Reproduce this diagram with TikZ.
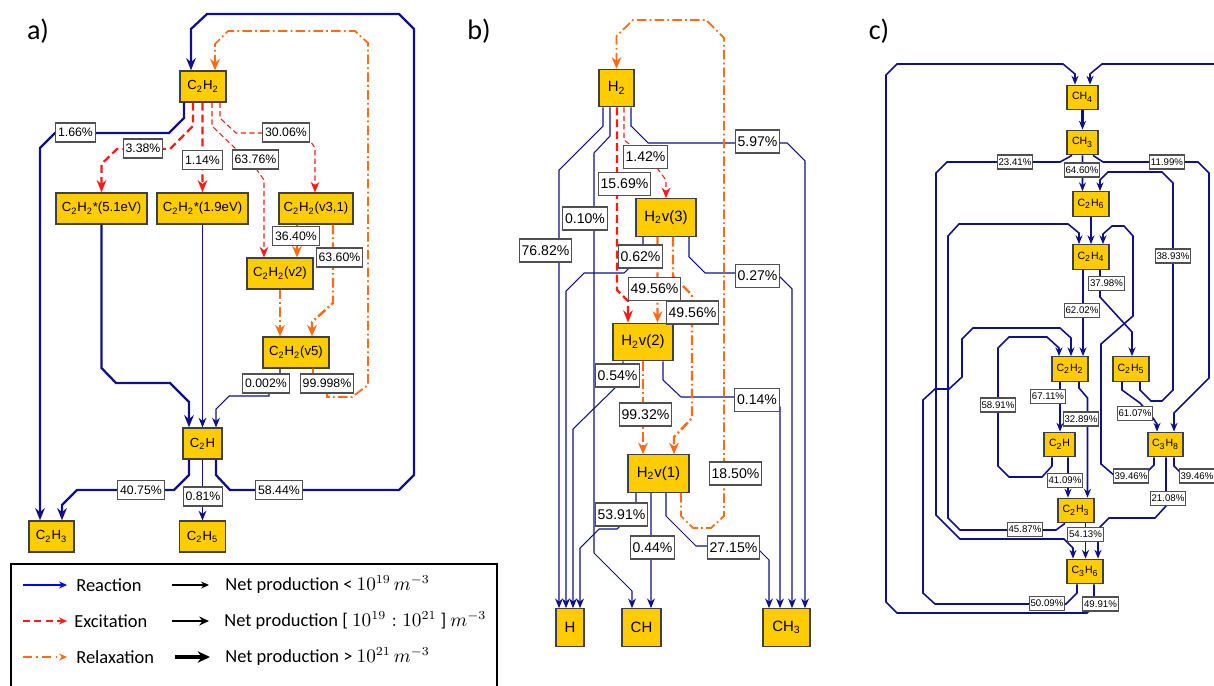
\documentclass[tikz,border=0pt]{standalone}
\usepackage{fontspec}
\setmainfont{Liberation Sans}
\newfontfamily\keyfont{Carlito}
\usepackage{tikz}
\usetikzlibrary{arrows.meta,calc}
\definecolor{BoxGold}{HTML}{FFCC00}
\definecolor{BoxEdge}{HTML}{404040}
\definecolor{TagEdge}{HTML}{505050}
\definecolor{LinkNavy}{HTML}{10108A}
\definecolor{ExcRed}{HTML}{FF1A1A}
\definecolor{RelOrange}{HTML}{FF6A13}
\definecolor{KeyBlue}{HTML}{0000FF}

\tikzset{
  species/.style={draw=BoxEdge,fill=BoxGold,line width=0.7pt,inner sep=0pt},
  spa/.style={species,minimum height=0.62cm,font=\fontsize{7.5}{9}\selectfont},
  spb/.style={species,minimum height=0.75cm,font=\fontsize{8.5}{10}\selectfont},
  spc/.style={species,minimum height=0.49cm,font=\fontsize{6}{7}\selectfont},
  ratio/.style={draw=TagEdge,fill=white,line width=0.6pt,inner ysep=0pt,inner xsep=1.4pt},
  ratioa/.style={ratio,minimum height=0.38cm,font=\fontsize{7}{8}\selectfont},
  ratiob/.style={ratio,minimum height=0.46cm,font=\fontsize{8}{9}\selectfont},
  ratioc/.style={ratio,minimum height=0.28cm,inner xsep=0.8pt,font=\fontsize{5.5}{6}\selectfont},
  link/.style={draw=LinkNavy,line width=0.6pt,-{Stealth[length=5.5pt,width=4.5pt]}},
  linkbold/.style={link,line width=1.3pt,-{Stealth[length=7pt,width=5.5pt]}},
  linkc/.style={link,line width=0.9pt,-{Stealth[length=5pt,width=4pt]}},
  excite/.style={draw=ExcRed,line width=1.3pt,dash pattern=on 4.5pt off 2.3pt,-{Stealth[length=7pt,width=5.5pt]}},
  excitethin/.style={draw=ExcRed,line width=0.6pt,dash pattern=on 3pt off 1.8pt,-{Stealth[length=6pt,width=5pt]}},
  relax/.style={draw=RelOrange,line width=1pt,dash pattern=on 5.5pt off 1.8pt on 1pt off 1.8pt,-{Stealth[length=6.5pt,width=5.5pt]}},
  relaxbold/.style={relax,line width=1.4pt},
  keytext/.style={anchor=west,inner sep=0pt,font=\keyfont\fontsize{10.5}{12}\selectfont},
  keyarrow/.style={line width=0.8pt,-{Stealth[length=4.5pt,width=4pt]}},
  panel/.style={font=\keyfont\fontsize{16}{18}\selectfont}
}

\begin{document}
\begin{tikzpicture}[x=0.02cm,y=-0.02cm]
  \useasboundingbox (0,0) rectangle (1214,686);

  \node[panel] (taga) at (38,31) {a)};
  \node[panel] (tagb) at (479,31) {b)};
  \node[panel] (tagc) at (879,31) {c)};

  % ---- a) C2H2 chemistry
  \node[spa,minimum width=0.92cm] (c2h2) at (203,86.5) {C\textsubscript{2}H\textsubscript{2}};
  \node[spa,minimum width=1.82cm] (c2h2e5) at (101.5,208.5) {C\textsubscript{2}H\textsubscript{2}*(5.1eV)};
  \node[spa,minimum width=1.82cm] (c2h2e19) at (202.5,208.5) {C\textsubscript{2}H\textsubscript{2}*(1.9eV)};
  \node[spa,minimum width=1.48cm] (c2h2v31) at (316,208.5) {C\textsubscript{2}H\textsubscript{2}(v3,1)};
  \node[spa,minimum width=1.32cm] (c2h2v2) at (280,273.5) {C\textsubscript{2}H\textsubscript{2}(v2)};
  \node[spa,minimum width=1.32cm] (c2h2v5) at (296,352.5) {C\textsubscript{2}H\textsubscript{2}(v5)};
  \node[spa,minimum width=0.78cm] (c2h) at (202.5,443.5) {C\textsubscript{2}H};
  \node[spa,minimum width=0.9cm] (c2h3) at (51.5,536.5) {C\textsubscript{2}H\textsubscript{3}};
  \node[spa,minimum width=0.92cm] (c2h5) at (202.5,536.5) {C\textsubscript{2}H\textsubscript{5}};

  \draw[linkbold] ($(c2h.south)+(13.5,0)$) -- (216,475) -- (230,490) -- (399,490) -- (414,475) -- (414,29) -- (399,14) -- (207,14) -- (191,29) -- ($(c2h2.north)+(-12,0)$);
  \draw[linkbold] ($(c2h.south)+(-13.5,0)$) -- (189,475) -- (174,490) -- (77,490) -- (62,505) -- ($(c2h3.north)+(10.5,0)$);
  \draw[link] (c2h.south) -- (c2h5.north);
  \draw[linkbold] ($(c2h2.south)+(-19,0)$) -- (184,118) -- (169,133) -- (55,133) -- (40,148) -- ($(c2h3.north)+(-11.5,0)$);
  \draw[linkbold] (c2h2e5.south) -- (101.5,368) -- (116,383) -- (170,383) -- (189,402) -- ($(c2h.north)+(-13.5,0)$);
  \draw[link] (c2h2e19.south) -- (c2h.north);
  \draw[link] ($(c2h2v5.south)+(-16,0)$) -- (280,383) -- (269,383) -- (269,396) -- (229,396) -- (216,409) -- ($(c2h.north)+(13.5,0)$);
  \draw[relax] ($(c2h2v5.south)+(17,0)$) -- (313,384) -- (327,384) -- (327,397) -- (352,397) -- (368,385) -- (368,43) -- (355,31) -- (228,31) -- (215,44) -- ($(c2h2.north)+(12,0)$);
  \draw[excite] ($(c2h2.south)+(-10,0)$) -- (193,126) -- (170,149) -- (117,149) -- (101.5,164) -- (c2h2e5.north);
  \draw[excite] ($(c2h2.south)+(-0.5,0)$) -- (c2h2e19.north);
  \draw[excitethin] ($(c2h2.south)+(9,0)$) -- (212,126) -- (236,149) -- (257,170) -- (264,180) -- ($(c2h2v2.north)+(-16,0)$);
  \draw[excitethin] ($(c2h2.south)+(17,0)$) -- (220,118) -- (236,133) -- (305,133) -- (315,148) -- ($(c2h2v31.north)+(-1,0)$);
  \draw[relaxbold] ($(c2h2v31.south)+(-19,0)$) -- ($(c2h2v2.north)+(17,0)$);
  \draw[relaxbold] ($(c2h2v31.south)+(17,0)$) -- (333,303) -- (312,322) -- ($(c2h2v5.north)+(16,0)$);
  \draw[relaxbold] (c2h2v2.south) -- ($(c2h2v5.north)+(-16,0)$);

  \node[ratioa] (pa1) at (75.5,132.5) {1.66\%};
  \node[ratioa] (pa2) at (143,148.5) {3.38\%};
  \node[ratioa] (pa3) at (202.5,160) {1.14\%};
  \node[ratioa] (pa4) at (255.5,159.5) {63.76\%};
  \node[ratioa] (pa5) at (286,132.5) {30.06\%};
  \node[ratioa] (pa6) at (296,236) {36.40\%};
  \node[ratioa] (pa7) at (339.5,257.5) {63.60\%};
  \node[ratioa] (pa8) at (266,383.5) {0.002\%};
  \node[ratioa] (pa9) at (327,383.5) {99.998\%};
  \node[ratioa] (pa10) at (141,490) {40.75\%};
  \node[ratioa] (pa11) at (203,496.5) {0.81\%};
  \node[ratioa] (pa12) at (279,490) {58.44\%};

  % ---- b) H2 chemistry
  \node[spb,minimum width=0.7cm] (h2) at (616.5,88) {H\textsubscript{2}};
  \node[spb,minimum width=1.2cm] (h2v3) at (666,217.5) {H\textsubscript{2}v(3)};
  \node[spb,minimum width=1.2cm] (h2v2) at (643,342) {H\textsubscript{2}v(2)};
  \node[spb,minimum width=1.22cm] (h2v1) at (658.5,473.5) {H\textsubscript{2}v(1)};
  \node[spb,minimum width=0.56cm] (hb) at (570,627.5) {H};
  \node[spb,minimum width=0.78cm] (chb) at (641.5,627.5) {CH};
  \node[spb,minimum width=0.94cm] (ch3b) at (786.5,627.5) {CH\textsubscript{3}};

  \draw[link] ($(h2.south)+(-13.5,0)$) -- (603,126) -- (559,170) -- ($(hb.north)+(-11,0)$);
  \draw[link] ($(h2.south)+(-6.5,0)$) -- (610,136) -- (594,153) -- (594,553) -- (632,591) -- ($(chb.north)+(-9.5,0)$);
  \draw[link] ($(h2v3.south)+(-23,0)$) -- (643,257) -- (628,257) -- (628,269) -- (624,273) -- (584,273) -- (566,291) -- ($(hb.north)+(-4,0)$);
  \draw[link] ($(h2v2.south)+(-20,0)$) -- (623,376) -- (616,376) -- (616,387) -- (573,429) -- ($(hb.north)+(3,0)$);
  \draw[link] ($(h2v1.south)+(-22.5,0)$) -- (636,514) -- (620,514) -- (620,526) -- (617,529) -- (599,529) -- (580,548) -- ($(hb.north)+(10,0)$);
  \draw[link] ($(h2.south)+(14.5,0)$) -- (631,126) -- (648,143) -- (787,143) -- (805,161) -- ($(ch3b.north)+(18.5,0)$);
  \draw[link] ($(h2v3.south)+(23,0)$) -- (689,257) -- (705,273) -- (776,273) -- (792,289) -- ($(ch3b.north)+(5.5,0)$);
  \draw[link] ($(h2v2.south)+(20,0)$) -- (663,380) -- (681,397) -- (770,397) -- (780,407) -- ($(ch3b.north)+(-6.5,0)$);
  \draw[link] ($(h2v1.south)+(7.5,0)$) -- (666,516) -- (696,546) -- (755,546) -- (769,560) -- ($(ch3b.north)+(-17.5,0)$);
  \draw[link] ($(h2v1.south)+(-7.5,0)$) -- ($(chb.north)+(9.5,0)$);
  \draw[excite] ($(h2.south)+(0.5,0)$) -- (617,290) -- (628,301) -- ($(h2v2.north)+(-15,0)$);
  \draw[excitethin] ($(h2.south)+(7.5,0)$) -- (624,140) -- (632,146) -- (657,168) -- (666,180) -- (h2v3.north);
  \draw[relaxbold] ($(h2v3.south)+(-8.5,0)$) -- ($(h2v2.north)+(14.5,0)$);
  \draw[relaxbold] ($(h2v3.south)+(7,0)$) -- (673,276) -- (692,295) -- (692,418) -- (674,437) -- ($(h2v1.north)+(15.5,0)$);
  \draw[relaxbold] (h2v2.south) -- ($(h2v1.north)+(-15.5,0)$);
  \draw[relax] ($(h2v1.south)+(22.5,0)$) -- (681,516) -- (693,528) -- (711,528) -- (724,516) -- (724,38) -- (706,20) -- (633,20) -- (616.5,36) -- (h2.north);

  \node[ratiob] (pb1) at (545.5,250.5) {76.82\%};
  \node[ratiob] (pb2) at (585,218.5) {0.10\%};
  \node[ratiob] (pb3) at (624.5,184) {15.69\%};
  \node[ratiob] (pb4) at (645.5,157) {1.42\%};
  \node[ratiob] (pb5) at (757.5,141.5) {5.97\%};
  \node[ratiob] (pb6) at (640.5,256.5) {0.62\%};
  \node[ratiob] (pb7) at (757.5,276) {0.27\%};
  \node[ratiob] (pb8) at (654.5,289) {49.56\%};
  \node[ratiob] (pb9) at (692.5,312.5) {49.56\%};
  \node[ratiob] (pb10) at (617.5,375.5) {0.54\%};
  \node[ratiob] (pb11) at (757,400) {0.14\%};
  \node[ratiob] (pb12) at (645.5,414.5) {99.32\%};
  \node[ratiob] (pb13) at (735.5,473.5) {18.50\%};
  \node[ratiob] (pb14) at (621.5,514.5) {53.91\%};
  \node[ratiob] (pb15) at (652.5,547.5) {0.44\%};
  \node[ratiob] (pb16) at (733.5,547.5) {27.15\%};

  % ---- c) CH4 chemistry
  \node[spc,minimum width=0.62cm] (cch4) at (1082.5,97.5) {CH\textsubscript{4}};
  \node[spc,minimum width=0.62cm] (cch3) at (1082.5,142.5) {CH\textsubscript{3}};
  \node[spc,minimum width=0.72cm] (cc2h6) at (1091,204) {C\textsubscript{2}H\textsubscript{6}};
  \node[spc,minimum width=0.72cm] (cc2h4) at (1091,257) {C\textsubscript{2}H\textsubscript{4}};
  \node[spc,minimum width=0.72cm] (cc2h2) at (1070,369) {C\textsubscript{2}H\textsubscript{2}};
  \node[spc,minimum width=0.72cm] (cc2h5) at (1131,369) {C\textsubscript{2}H\textsubscript{5}};
  \node[spc,minimum width=0.62cm] (cc2h) at (1059.5,444.5) {C\textsubscript{2}H};
  \node[spc,minimum width=0.70cm] (cc3h8) at (1165.5,444.5) {C\textsubscript{3}H\textsubscript{8}};
  \node[spc,minimum width=0.72cm] (cc2h3) at (1076,510.5) {C\textsubscript{2}H\textsubscript{3}};
  \node[spc,minimum width=0.72cm] (cc3h6) at (1085,571.5) {C\textsubscript{3}H\textsubscript{6}};

  \draw[linkc,line width=1.4pt] (cch4.south) -- (cch3.north);
  \draw[linkc] (cch3.south) -- ($(cc2h6.north)+(-8.5,0)$);
  \draw[linkc] ($(cch3.south)+(-10.5,0)$) -- (1060,162) -- (947,162) -- (936,173) -- (936,515) -- (960,539) -- (1064,539) -- (1073,548) -- ($(cc3h6.north)+(-12,0)$);
  \draw[linkc] ($(cch3.south)+(10.5,0)$) -- (1103,162) -- (1198,162) -- (1209,173) -- (1209,378) -- (1174,413) -- ($(cc3h8.north)+(8.5,0)$);
  \draw[linkc] ($(cc2h5.south)+(9,0)$) -- (1140,390) -- (1151,401) -- (1162,401) -- (1173,390) -- (1173,183) -- (1162,172) -- (1108,172) -- (1100,180) -- ($(cc2h6.north)+(9,0)$);
  \draw[linkc] (cc2h6.south) -- (cc2h4.north);
  \draw[linkc] ($(cc2h3.south)+(-11,0)$) -- (1056,530) -- (960,530) -- (948,518) -- (948,236) -- (959,224) -- (1068,224) -- (1079,233) -- ($(cc2h4.north)+(-12,0)$);
  \draw[linkc] ($(cc3h8.south)+(-11.5,0)$) -- (1154,465) -- (1148,471) -- (1115,476) -- (1101,464) -- (1101,344) -- (1133,316) -- (1133,236) -- (1124,226) -- (1112,226) -- (1103,234) -- ($(cc2h4.north)+(12,0)$);
  \draw[linkc] ($(cc2h4.south)+(-8,0)$) -- ($(cc2h2.north)+(13,0)$);
  \draw[linkc] ($(cc2h4.south)+(9,0)$) -- (1100,297) -- (1132,332) -- ($(cc2h5.north)+(1,0)$);
  \draw[linkc] ($(cc2h.south)+(-7.5,0)$) -- (1052,466) -- (1042,477) -- (1009,477) -- (998,466) -- (998,348) -- (1009,337) -- (1047,337) -- (1059,348) -- ($(cc2h2.north)+(-11,0)$);
  \draw[linkc] ($(cc3h6.south)+(-8,0)$) -- (1077,593) -- (1066,604) -- (935,604) -- (923,593) -- (923,400) -- (935,389) -- (949,389) -- (962,377) -- (962,339) -- (973,328) -- (1060,328) -- (1071,338) -- ($(cc2h2.north)+(1,0)$);
  \draw[linkc] ($(cc3h6.south)+(9,0)$) -- (1094,606) -- (1087,613) -- (897,613) -- (886,602) -- (886,75) -- (897,64) -- (1063,64) -- (1075,74) -- ($(cch4.north)+(-7.5,0)$);
  \draw[linkc] ($(cc2h2.south)+(-10,0)$) -- ($(cc2h.north)+(0.5,0)$);
  \draw[linkc] ($(cc2h2.south)+(9,0)$) -- (1079,388) -- (1087.5,398) -- ($(cc2h3.north)+(11.5,0)$);
  \draw[linkc] ($(cc2h.south)+(8.5,0)$) -- ($(cc2h3.north)+(-8,0)$);
  \draw[linkc] ($(cc2h3.south)+(9.5,0)$) -- ($(cc3h6.north)+(0.5,0)$);
  \draw[linkc] ($(cc3h8.south)+(0.5,0)$) -- (1166,506) -- (1155,518) -- (1109,518) -- (1098,529) -- ($(cc3h6.north)+(13,0)$);
  \draw[linkc] ($(cc2h5.south)+(-9,0)$) -- (1122,390) -- (1140,403) -- (1153,418) -- (1157,424) -- ($(cc3h8.north)+(-8.5,0)$);
  \draw[linkc] ($(cc3h8.south)+(8.5,0)$) -- (1174,466) -- (1182,474) -- (1226,474) -- (1226,76) -- (1214,64) -- (1102,64) -- (1090,74) -- ($(cch4.north)+(7.5,0)$);

  \node[ratioc] (pc1) at (1082,170) {64.60\%};
  \node[ratioc] (pc2) at (1015,162) {23.41\%};
  \node[ratioc] (pc3) at (1167,162) {11.99\%};
  \node[ratioc] (pc4) at (1173,256) {38.93\%};
  \node[ratioc] (pc5) at (1106.5,283.5) {37.98\%};
  \node[ratioc] (pc6) at (1082,310.5) {62.02\%};
  \node[ratioc] (pc7) at (998,405) {58.91\%};
  \node[ratioc] (pc8) at (1048,396.5) {67.11\%};
  \node[ratioc] (pc9) at (1081,419) {32.89\%};
  \node[ratioc] (pc10) at (1135,413.5) {61.07\%};
  \node[ratioc] (pc11) at (1065,480.5) {41.09\%};
  \node[ratioc] (pc12) at (1131,476) {39.46\%};
  \node[ratioc] (pc13) at (1197,476) {39.46\%};
  \node[ratioc] (pc14) at (1168,498.5) {21.08\%};
  \node[ratioc] (pc15) at (1025,529.5) {45.87\%};
  \node[ratioc] (pc16) at (1085.5,534.5) {54.13\%};
  \node[ratioc] (pc17) at (1047,603.5) {50.09\%};
  \node[ratioc] (pc18) at (1100.5,604) {49.91\%};

  % ---- legend
  \draw[line width=0.8pt] (11,564) rectangle (497,700);
  \node[keytext] (kreact) at (76,585) {Reaction};
  \node[keytext] (kexc) at (74,621) {Excitation};
  \node[keytext] (krel) at (76,657) {Relaxation};
  \draw[keyarrow,KeyBlue] ($(kreact.west)+(-53,0)$) -- ($(kreact.west)+(-9,0)$);
  \draw[keyarrow,ExcRed,dash pattern=on 4pt off 2.5pt] ($(kexc.west)+(-51,0)$) -- ($(kexc.west)+(-7,0)$);
  \draw[keyarrow,RelOrange,dash pattern=on 5pt off 2.5pt on 1pt off 2.5pt] ($(krel.west)+(-53,0)$) -- ($(krel.west)+(-9,0)$);
  \node[keytext] (klow) at (225,585) {Net production < $10^{19}\,m^{-3}$};
  \node[keytext] (kmid) at (224,621) {Net production [ $10^{19}:10^{21}$ ] $m^{-3}$};
  \node[keytext] (khigh) at (225,657) {Net production > $10^{21}\,m^{-3}$};
  \draw[line width=0.6pt,-{Stealth[length=4.5pt,width=4pt]}] ($(klow.west)+(-53,0)$) -- ($(klow.west)+(-16,0)$);
  \draw[line width=1.1pt,-{Stealth[length=5.5pt,width=5pt]}] ($(kmid.west)+(-52,0)$) -- ($(kmid.west)+(-15,0)$);
  \draw[line width=2.2pt,-{Stealth[length=7pt,width=6.5pt]}] ($(khigh.west)+(-50,0)$) -- ($(khigh.west)+(-15,0)$);
\end{tikzpicture}
\end{document}
